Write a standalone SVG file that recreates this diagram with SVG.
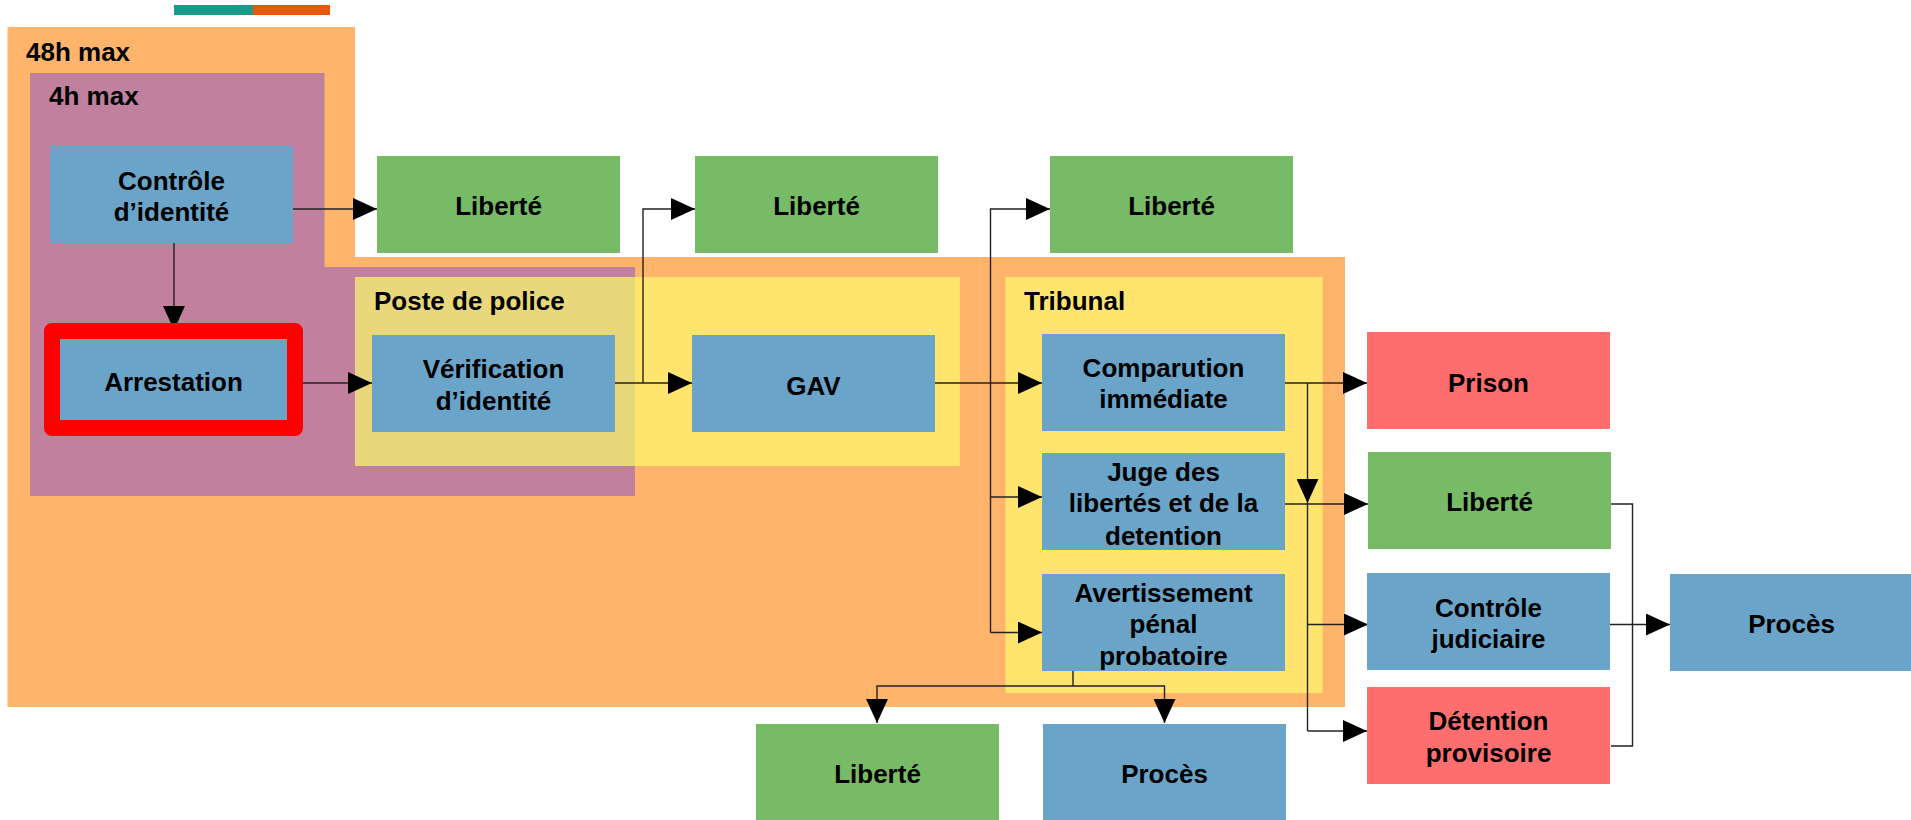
<svg xmlns="http://www.w3.org/2000/svg" width="1911" height="820" viewBox="0 0 1911 820">
<style>
text{font-family:"Liberation Sans",Arial,sans-serif;font-weight:bold;font-size:26px;fill:#000}
.c{text-anchor:middle}
.blue{fill:#6aa4c8}
.green{fill:#78bb67}
.red{fill:#ff6e6e}
.conn{fill:none;stroke:#222;stroke-width:1.4}
</style>
<defs>
<marker id="ah" markerUnits="userSpaceOnUse" markerWidth="24" markerHeight="22" refX="23" refY="10.5" orient="auto" viewBox="0 0 23 21">
<path d="M0,0 L23,10.5 L0,21 z" fill="#000"/>
</marker>
</defs>
<g id="legend-bar">
<rect x="174" y="5" width="79" height="10" fill="#1a9a88"/>
<rect x="253" y="5" width="77" height="10" fill="#e8580a"/>
</g>
<g id="zone-48h">
<polygon points="7.5,27 355,27 355,257 1345,257 1345,707 7.5,707" fill="#ffb46b"/>
<text x="26" y="61">48h max</text>
</g>
<g id="zone-poste">
<rect x="355" y="277" width="605" height="189" fill="#ffe56e"/>
</g>
<g id="zone-4h">
<polygon points="30,73 324.5,73 324.5,267 635,267 635,496 30,496" fill="#c0809e"/>
<rect x="355" y="277" width="280" height="189" fill="#e9d77b"/>
<text x="49" y="105">4h max</text>
<text x="374" y="310">Poste de police</text>
</g>
<g id="zone-tribunal">
<rect x="1005.5" y="277" width="317" height="416" fill="#ffe56e"/>
<text x="1024" y="310">Tribunal</text>
</g>
<g id="connectors">
<line class="conn" x1="292" y1="209" x2="377" y2="209" marker-end="url(#ah)"/>
<line class="conn" x1="174" y1="243" x2="174" y2="330" marker-end="url(#ah)"/>
<line class="conn" x1="296" y1="383" x2="372" y2="383" marker-end="url(#ah)"/>
<line class="conn" x1="615" y1="383" x2="692" y2="383" marker-end="url(#ah)"/>
<polyline class="conn" points="643,383 643,209 695,209" marker-end="url(#ah)"/>
<line class="conn" x1="935" y1="383" x2="1042" y2="383" marker-end="url(#ah)"/>
<polyline class="conn" points="990.5,632.5 990.5,209 1050,209" marker-end="url(#ah)"/>
<line class="conn" x1="990.5" y1="497" x2="1042" y2="497" marker-end="url(#ah)"/>
<line class="conn" x1="990.5" y1="632.5" x2="1042" y2="632.5" marker-end="url(#ah)"/>
<line class="conn" x1="1285" y1="383" x2="1367" y2="383" marker-end="url(#ah)"/>
<line class="conn" x1="1307.5" y1="383" x2="1307.5" y2="503" marker-end="url(#ah)"/>
<line class="conn" x1="1307.5" y1="503" x2="1307.5" y2="731"/>
<line class="conn" x1="1285" y1="504" x2="1368" y2="504" marker-end="url(#ah)"/>
<line class="conn" x1="1307.5" y1="624.5" x2="1368" y2="624.5" marker-end="url(#ah)"/>
<line class="conn" x1="1307.5" y1="731" x2="1367" y2="731" marker-end="url(#ah)"/>
<polyline class="conn" points="1611,504 1632.5,504 1632.5,746 1611,746"/>
<line class="conn" x1="1610" y1="624.5" x2="1670" y2="624.5" marker-end="url(#ah)"/>
<line class="conn" x1="1073" y1="671" x2="1073" y2="686"/>
<polyline class="conn" points="1073,686 877,686 877,723" marker-end="url(#ah)"/>
<polyline class="conn" points="1073,686 1164.5,686 1164.5,723" marker-end="url(#ah)"/>
</g>
<g id="n-controle-identite">
<rect class="blue" x="50" y="146" width="243" height="97"/>
<text class="c" x="171.5" y="190">Contrôle</text>
<text class="c" x="171.5" y="221">d’identité</text>
</g>
<g id="n-liberte-1">
<rect class="green" x="377" y="156" width="243" height="97"/>
<text class="c" x="498.5" y="215">Liberté</text>
</g>
<g id="n-arrestation">
<rect x="52" y="331" width="243" height="97" fill="#6aa4c8" stroke="#ff0000" stroke-width="16" stroke-linejoin="round"/>
<text class="c" x="173.5" y="391">Arrestation</text>
</g>
<g id="n-verification">
<rect class="blue" x="372" y="335" width="243" height="97"/>
<text class="c" x="493.5" y="378">Vérification</text>
<text class="c" x="493.5" y="410">d’identité</text>
</g>
<g id="n-liberte-2">
<rect class="green" x="695" y="156" width="243" height="97"/>
<text class="c" x="816.5" y="215">Liberté</text>
</g>
<g id="n-gav">
<rect class="blue" x="692" y="335" width="243" height="97"/>
<text class="c" x="813.5" y="395">GAV</text>
</g>
<g id="n-liberte-3">
<rect class="green" x="1050" y="156" width="243" height="97"/>
<text class="c" x="1171.5" y="215">Liberté</text>
</g>
<g id="n-comparution">
<rect class="blue" x="1042" y="334" width="243" height="97"/>
<text class="c" x="1163.5" y="377">Comparution</text>
<text class="c" x="1163.5" y="408">immédiate</text>
</g>
<g id="n-juge">
<rect class="blue" x="1042" y="453" width="243" height="97"/>
<text class="c" x="1163.5" y="481">Juge des</text>
<text class="c" x="1163.5" y="512">libertés et de la</text>
<text class="c" x="1163.5" y="545">detention</text>
</g>
<g id="n-avertissement">
<rect class="blue" x="1042" y="574" width="243" height="97"/>
<text class="c" x="1163.5" y="602">Avertissement</text>
<text class="c" x="1163.5" y="633">pénal</text>
<text class="c" x="1163.5" y="665">probatoire</text>
</g>
<g id="n-prison">
<rect class="red" x="1367" y="332" width="243" height="97"/>
<text class="c" x="1488.5" y="392">Prison</text>
</g>
<g id="n-liberte-4">
<rect class="green" x="1368" y="452" width="243" height="97"/>
<text class="c" x="1489.5" y="511">Liberté</text>
</g>
<g id="n-controle-judiciaire">
<rect class="blue" x="1367" y="573" width="243" height="97"/>
<text class="c" x="1488.5" y="617">Contrôle</text>
<text class="c" x="1488.5" y="648">judiciaire</text>
</g>
<g id="n-detention-provisoire">
<rect class="red" x="1367" y="687" width="243" height="97"/>
<text class="c" x="1488.5" y="730">Détention</text>
<text class="c" x="1488.5" y="762">provisoire</text>
</g>
<g id="n-proces-1">
<rect class="blue" x="1670" y="574" width="243" height="97"/>
<text class="c" x="1791.5" y="633">Procès</text>
</g>
<g id="n-liberte-5">
<rect class="green" x="756" y="724" width="243" height="97"/>
<text class="c" x="877.5" y="783">Liberté</text>
</g>
<g id="n-proces-2">
<rect class="blue" x="1043" y="724" width="243" height="97"/>
<text class="c" x="1164.5" y="783">Procès</text>
</g>
</svg>
